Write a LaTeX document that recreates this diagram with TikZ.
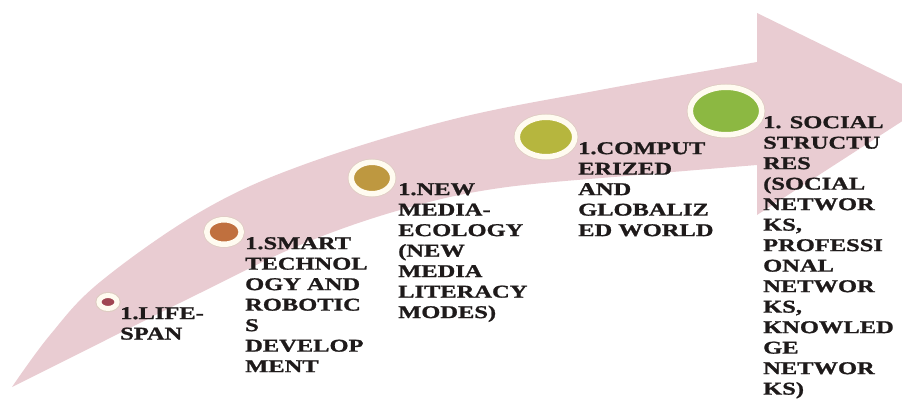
\documentclass[tikz,border=0pt]{standalone}
\usepackage{fontspec}
\newfontfamily\lblfont{Liberation Serif}[UprightFont={* Bold}, FakeStretch=1.36, FakeBold=1.2]
\usetikzlibrary{shapes.geometric}
\definecolor{arrowc}{RGB}{233,204,210}
\definecolor{ringc}{RGB}{255,251,240}
\definecolor{edgec}{RGB}{222,204,194}
\definecolor{txtc}{RGB}{30,26,26}
\definecolor{cA}{RGB}{160,70,82}
\definecolor{cB}{RGB}{192,112,62}
\definecolor{cC}{RGB}{190,152,64}
\definecolor{cD}{RGB}{182,182,62}
\definecolor{cE}{RGB}{140,184,66}
\tikzset{
  dot/.style={ellipse, inner sep=0pt, draw=ringc, line width=5.5pt,
    preaction={draw=edgec, line width=7pt}},
  lbl/.style={anchor=north west, inner sep=0pt, align=left, text=txtc,
    font=\lblfont\fontsize{18}{20.5}\selectfont}
}
\begin{document}
\begin{tikzpicture}[x=1pt,y=-1pt]
\useasboundingbox (0,0) rectangle (902,401);
\clip (0,0) rectangle (902,401);
% curved arrow
\fill[arrowc]
  plot[smooth, tension=0.6] coordinates {(12,387) (50,335) (100,282) (200,212) (300,166) (450,120) (600,90) (757,62)}
  -- (757,13) -- (935,100) -- (757,215) --
  plot[smooth, tension=0.6] coordinates {(757,165) (650,174) (500,188) (400,210) (300,245) (200,293) (100,343) (12,387)}
  -- cycle;
% circles
\node[dot, fill=cA, line width=5pt, preaction={draw=edgec, line width=6.4pt}, minimum width=18pt, minimum height=13pt] (d1) at (108,302) {};
\node[dot, fill=cB, minimum width=34.5pt, minimum height=24.5pt] (d2) at (224,232) {};
\node[dot, fill=cC, minimum width=41.5pt, minimum height=31.5pt] (d3) at (372,178) {};
\node[dot, fill=cD, minimum width=57.5pt, minimum height=39.5pt] (d4) at (546,137) {};
\node[dot, fill=cE, minimum width=71.5pt, minimum height=47.5pt] (d5) at (726,111) {};
% labels
\node[lbl] (t1) at (120,307) {1.LIFE-\\SPAN};
\node[lbl] (t2) at (245,237) {1.SMART\\TECHNOL\\OGY AND\\ROBOTIC\\S\\DEVELOP\\MENT};
\node[lbl] (t3) at (398,183) {1.NEW\\MEDIA-\\ECOLOGY\\(NEW\\MEDIA\\LITERACY\\MODES)};
\node[lbl] (t4) at (578,142) {1.COMPUT\\ERIZED\\AND\\GLOBALIZ\\ED WORLD};
\node[lbl] (t5) at (763,116) {1. SOCIAL\\STRUCTU\\RES\\(SOCIAL\\NETWOR\\KS,\\PROFESSI\\ONAL\\NETWOR\\KS,\\KNOWLED\\GE\\NETWOR\\KS)};
\end{tikzpicture}
\end{document}
